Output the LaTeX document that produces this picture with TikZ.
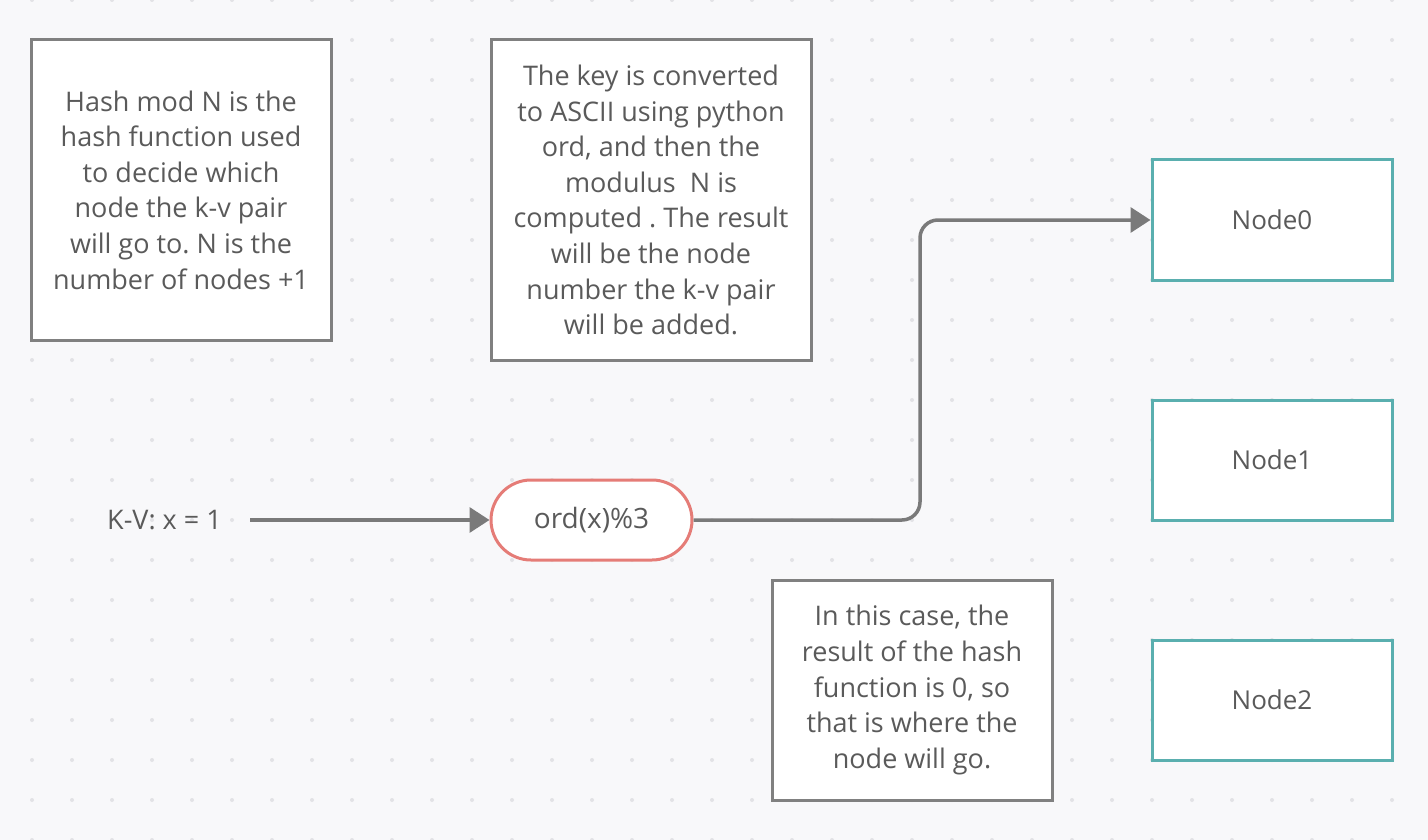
\documentclass[tikz,border=0pt]{standalone}
\usepackage{fontspec}
\setmainfont{Open Sans}
\usetikzlibrary{arrows.meta}
\definecolor{bg}{HTML}{F8F8FA}
\definecolor{dotc}{HTML}{E2E2E6}
\definecolor{txt}{HTML}{5A5A5A}
\definecolor{boxc}{HTML}{808080}
\definecolor{tealc}{HTML}{5AAFAF}
\definecolor{redc}{HTML}{E57C77}
\definecolor{linec}{HTML}{7A7A7A}
\frenchspacing
\begin{document}
\begin{tikzpicture}[x=1pt,y=-1pt,
  basefont/.style={text=txt,font=\fontsize{27}{35.6}\selectfont},
  note/.style={basefont,draw=boxc,fill=white,line width=3pt,inner sep=0pt,align=center},
  server/.style={text=txt,font=\fontsize{26}{30}\selectfont,draw=tealc,fill=white,line width=3pt,inner sep=0pt,minimum width=240pt,minimum height=120pt},
  hashbox/.style={text=txt,font=\fontsize{28}{32}\selectfont,draw=redc,fill=white,line width=3pt,inner sep=0pt,rounded corners=40pt,minimum width=201pt,minimum height=80pt},
  conn/.style={draw=linec,line width=3.5pt,-{Triangle[length=20pt,width=25pt]}}]
\fill[bg] (0,0) rectangle (1428,840);
\useasboundingbox (0,0) rectangle (1428,840);
\foreach \i in {0,...,35} \foreach \j in {0,...,21} \fill[dotc] (32+40*\i,40*\j) circle[radius=2pt];
\node[note,minimum width=300pt,minimum height=300pt] (n1) at (181,190)
  {Hash mod N is the\\hash function used\\to decide which\\node the k-v pair\\will go to. N is the\\number of nodes +1};
\node[note,minimum width=320pt,minimum height=320pt] (n2) at (651,200)
  {The key is converted\\to ASCII using python\\ord, and then the\\modulus\ \ N is\\computed . The result\\will be the node\\number the k-v pair\\will be added.};
\node[note,minimum width=280pt,minimum height=220pt] (n3) at (912,690)
  {In this case, the\\result of the hash\\function is 0, so\\that is where the\\node will go.};
\node[server] (node0) at (1272,220) {Node0};
\node[server] (node1) at (1272,460) {Node1};
\node[server] (node2) at (1272,700) {Node2};
\node[hashbox] (ord) at (591.5,520) {ord(x)\%3};
\node[basefont,anchor=east,inner sep=0pt] (kv) at (222,520) {K-V: x = 1};
\draw[conn,shorten <=28pt] (kv.east) -- (ord.west);
\draw[conn,rounded corners=18pt] (ord.east) -| (920,400) |- (node0.west);
\end{tikzpicture}
\end{document}
